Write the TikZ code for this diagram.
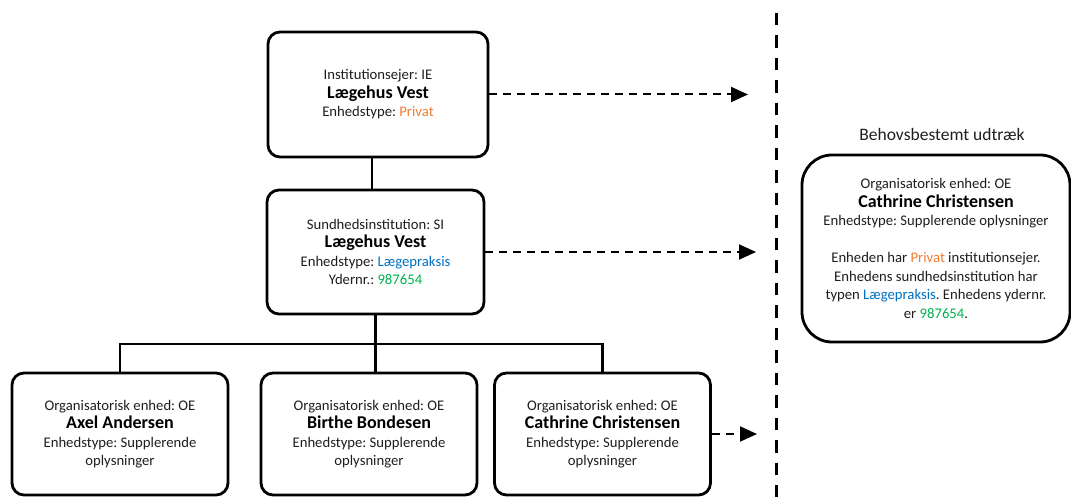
\documentclass[tikz,border=0pt]{standalone}
\usepackage{fontspec}
\setmainfont{Carlito}
\frenchspacing
\usetikzlibrary{arrows.meta}
\definecolor{privat}{HTML}{ED7D31}
\definecolor{praksis}{HTML}{0070C0}
\definecolor{ydernr}{HTML}{00B050}
\definecolor{bodytext}{HTML}{1E1E1E}
% bold unit name, one size up from the body text
\newcommand{\unitname}[1]{{\fontsize{18}{21}\selectfont\bfseries\color{black}#1}}
\tikzset{
  unit/.style={draw, line width=2.8pt, rounded corners=12pt, align=center,
    inner sep=0pt, font=\fontsize{14.7}{18.5}\selectfont, text=bodytext},
  leaf/.style={unit, minimum width=216pt, minimum height=122pt},
  link/.style={line width=2.8pt},
  flow/.style={line width=2pt, dash pattern=on 8pt off 6pt,
    -{Triangle[length=17pt,width=15pt]}},
  divider/.style={line width=3pt, dash pattern=on 12.5pt off 10pt},
}
\begin{document}
\begin{tikzpicture}[x=1pt, y=-1pt]
\useasboundingbox (0,0) rectangle (1071,497);

% hierarchy
\node[unit, minimum width=220pt, minimum height=125pt] (ie) at (378,94.5)
  {Institutionsejer: IE\\ \unitname{Lægehus Vest}\\ Enhedstype: \textcolor{privat}{Privat}};
\node[unit, minimum width=217pt, minimum height=124pt] (si) at (375.5,252)
  {Sundhedsinstitution: SI\\ \unitname{Lægehus Vest}\\ Enhedstype: \textcolor{praksis}{Lægepraksis}\\ Ydernr.: \textcolor{ydernr}{987654}};
\node[leaf] (oeA) at (120,434)
  {Organisatorisk enhed: OE\\ \unitname{Axel Andersen}\\ Enhedstype: Supplerende\\ oplysninger};
\node[leaf] (oeB) at (369,434)
  {Organisatorisk enhed: OE\\ \unitname{Birthe Bondesen}\\ Enhedstype: Supplerende\\ oplysninger};
\node[leaf] (oeC) at (602.5,434)
  {Organisatorisk enhed: OE\\ \unitname{Cathrine Christensen}\\ Enhedstype: Supplerende\\ oplysninger};

% extract
\node[font=\fontsize{17.5}{21}\selectfont, text=bodytext] (title) at (942,134) {Behovsbestemt udtræk};
\node[unit, rounded corners=30pt, minimum width=268pt, minimum height=187pt] (extract) at (936,248.5)
  {Organisatorisk enhed: OE\\ \unitname{Cathrine Christensen}\\ Enhedstype: Supplerende oplysninger\\[18.5pt]
   Enheden har \textcolor{privat}{Privat} institutionsejer.\\ Enhedens sundhedsinstitution har\\
   typen \textcolor{praksis}{Lægepraksis}. Enhedens ydernr.\\ er \textcolor{ydernr}{987654}.};

% tree connectors
\coordinate (bus) at (0,344);
\draw[link] ([xshift=-6pt]ie.south) -- ([xshift=-6pt]ie.south |- si.north);
\draw[link] (si.south) -- (si.south |- oeB.north);
\draw[link] (oeA.north) -- (oeA.north |- bus) -| (oeC.north);

% dashed arrows towards the extract
\coordinate (tipIE) at (748,0);
\coordinate (tipSI) at (756,0);
\coordinate (tipOE) at (757,0);
\draw[flow] (ie.east) -- (ie.east -| tipIE);
\draw[flow] (si.east) -- (si.east -| tipSI);
\draw[flow] (oeC.east) -- (oeC.east -| tipOE);

% separator
\draw[divider] (776,12.7) -- (776,497);
\end{tikzpicture}
\end{document}
